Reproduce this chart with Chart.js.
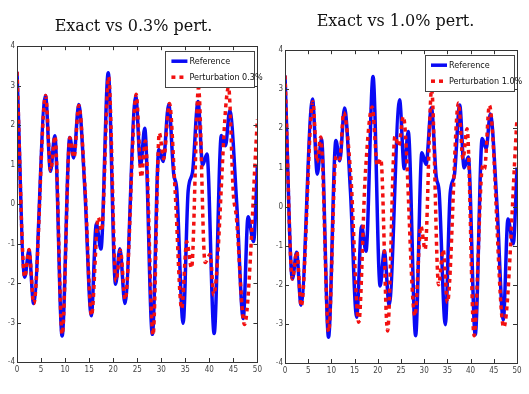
<!DOCTYPE html>
<html>
<head>
<meta charset="utf-8">
<script src="https://cdn.jsdelivr.net/npm/chart.js@4.4.1/dist/chart.umd.min.js"></script>
<style>
  html, body { margin: 0; padding: 0; background: #fff; }
  .panel { position: absolute; top: 0; }
</style>
</head>
<body>
<div class="panel" style="left:0"><canvas id="left" width="265" height="394"></canvas></div>
<div class="panel" style="left:265px"><canvas id="right" width="264" height="394"></canvas></div>
<script>
// reference trajectory (extrema and shoulders)
const refX = [0, 1.6, 2.5, 3.45, 5.93, 6.96, 7.86, 9.38, 10.97, 11.8, 12.83, 14.1, 15.45, 16.5, 17.45, 18.97,
  20.5, 21.4, 22.45, 24.7, 25.7, 26.56, 28.15, 29.5, 30.4, 31.55, 32.6, 33.2, 34.55, 35.6, 36.5, 37.65,
  38.6, 39.5, 41.0, 42.5, 43.35, 44.25, 45.7, 47.05, 48.05, 49.2, 50];
const refY = [3.35, -1.85, -1.17, -2.52, 2.75, 0.83, 1.73, -3.34, 1.69, 1.17, 2.52, 0.4, -2.83, -0.5, -1.14, 3.33,
  -2.03, -1.13, -2.52, 2.73, 0.97, 1.92, -3.3, 1.38, 1.08, 2.53, 0.75, 0.4, -3.02, 0.34, 0.8, 2.6,
  0.99, 1.27, -3.28, 1.74, 1.48, 2.37, 0.0, -2.9, -0.32, -0.95, 1.0];

// 0.3% perturbation
const p03X = [0, 1.6, 2.5, 3.5, 5.95, 7.0, 7.9, 9.4, 11.0, 11.85, 12.85, 14.15, 15.5, 16.9, 17.6, 19.05,
  20.6, 21.5, 22.5, 24.8, 25.85, 26.7, 28.3, 29.6, 30.5, 31.7, 32.9, 34.25, 35.3, 36.3, 37.75,
  39.1, 40.2, 40.9, 44.0, 45.0, 45.6, 47.3, 50];
const p03Y = [3.35, -1.85, -1.15, -2.52, 2.75, 0.85, 1.72, -3.3, 1.68, 1.18, 2.5, 0.4, -2.82, -0.34, -0.68, 3.22,
  -1.95, -1.17, -2.42, 2.78, 0.68, 1.6, -3.32, 1.8, 1.15, 2.55, 0.3, -2.65, -0.95, -1.62, 2.95,
  -1.48, -1.27, -2.3, 2.96, 0.25, -0.3, -3.05, 2.15];

// 1.0% perturbation
const p10X = [0, 1.6, 2.55, 3.5, 6.0, 6.9, 7.7, 9.4, 11.0, 11.8, 12.65, 14.2, 15.9, 17.3, 18.8, 19.9,
  20.65, 22.1, 23.7, 24.5, 25.5, 28.0, 29.3, 30.2, 31.6, 33.1, 34.1, 35.0, 37.4, 38.35, 39.25,
  40.75, 42.6, 43.0, 44.05, 47.15, 50];
const p10Y = [3.35, -1.85, -1.15, -2.55, 2.68, 1.14, 1.78, -3.2, 1.3, 1.22, 2.4, 0.75, -2.96, 0.8, 2.55, 1.05,
  1.22, -3.18, 1.8, 1.55, 2.3, -2.8, -0.5, -1.1, 3.0, -2.0, -1.1, -2.45, 2.65, 1.22, 1.99,
  -3.3, 1.05, 0.97, 2.59, -3.09, 2.25];

const xTicks = [0, 5, 10, 15, 20, 25, 30, 35, 40, 45, 50];
const yTicks = [-4, -3, -2, -1, 0, 1, 2, 3, 4];

const BLUE = '#0a0af5';
const RED = '#f21010';
const TICK_FONT = { family: "'Liberation Sans Narrow', 'DejaVu Sans Condensed', 'Liberation Sans', sans-serif", size: 8 };

const toPts = (xs, ys) => xs.map((x, i) => ({ x: x, y: ys[i] }));

// box round the axes with inward ticks, matlab style
const boxPlugin = {
  id: 'box',
  afterDatasetsDraw(chart) {
    const { ctx, chartArea: a, scales } = chart;
    ctx.save();
    ctx.strokeStyle = '#333';
    ctx.lineWidth = 1;
    ctx.strokeRect(Math.round(a.left) + 0.5, Math.round(a.top) + 0.5,
      Math.round(a.right - a.left), Math.round(a.bottom - a.top));
    ctx.beginPath();
    xTicks.forEach(v => {
      const px = Math.round(scales.x.getPixelForValue(v)) + 0.5;
      ctx.moveTo(px, a.bottom); ctx.lineTo(px, a.bottom - 4);
      ctx.moveTo(px, a.top); ctx.lineTo(px, a.top + 4);
    });
    yTicks.forEach(v => {
      const py = Math.round(scales.y.getPixelForValue(v)) + 0.5;
      ctx.moveTo(a.left, py); ctx.lineTo(a.left + 4, py);
      ctx.moveTo(a.right, py); ctx.lineTo(a.right - 4, py);
    });
    ctx.stroke();
    ctx.restore();
  }
};

// legend drawn inside the top right corner
const insideLegend = {
  id: 'insideLegend',
  afterDraw(chart) {
    const { ctx, chartArea: a } = chart;
    const w = 89, h = 36;
    const left = a.right - w - 3, top = a.top + 5;
    ctx.save();
    ctx.fillStyle = '#fff';
    ctx.fillRect(left, top, w, h);
    ctx.strokeStyle = '#444';
    ctx.lineWidth = 1;
    ctx.strokeRect(Math.round(left) + 0.5, Math.round(top) + 0.5, w, h);
    ctx.font = "9px 'Liberation Sans Narrow', 'DejaVu Sans Condensed', sans-serif";
    ctx.textBaseline = 'middle';
    ctx.fillStyle = '#111';
    chart.data.datasets.forEach((ds, i) => {
      const y = top + 10 + i * 16;
      ctx.beginPath();
      ctx.strokeStyle = ds.borderColor;
      ctx.lineWidth = 3.5;
      ctx.setLineDash(ds.borderDash || []);
      ctx.moveTo(left + 6, y);
      ctx.lineTo(left + 22, y);
      ctx.stroke();
      ctx.setLineDash([]);
      ctx.fillText(ds.label, left + 24, y + 0.5);
    });
    ctx.restore();
  }
};

function makeChart(id, title, pertLabel, px, py, pad, titlePad) {
  return new Chart(document.getElementById(id), {
    type: 'line',
    data: {
      datasets: [
        { label: 'Reference', data: toPts(refX, refY), borderColor: BLUE, borderWidth: 3.5,
          pointRadius: 0, cubicInterpolationMode: 'monotone', order: 1 },
        { label: pertLabel, data: toPts(px, py), borderColor: RED, borderWidth: 3.5,
          borderDash: [4, 4], pointRadius: 0, cubicInterpolationMode: 'monotone', order: 0 }
      ]
    },
    options: {
      responsive: false,
      animation: false,
      layout: { padding: pad },
      plugins: {
        legend: { display: false },
        tooltip: { enabled: false },
        title: {
          display: true, text: title, color: '#111',
          font: { family: "'DejaVu Serif', serif", size: 16, weight: 'normal' },
          padding: titlePad
        }
      },
      scales: {
        x: {
          type: 'linear', min: 0, max: 50,
          afterBuildTicks: s => { s.ticks = xTicks.map(v => ({ value: v })); },
          ticks: { font: TICK_FONT, color: '#444', padding: 3, maxRotation: 0 },
          grid: { display: false, drawTicks: false }, border: { display: false },
          afterFit: s => { s.height = 14; }
        },
        y: {
          type: 'linear', min: -4, max: 4,
          afterBuildTicks: s => { s.ticks = yTicks.map(v => ({ value: v })); },
          ticks: { font: TICK_FONT, color: '#444', padding: 2 },
          grid: { display: false, drawTicks: false }, border: { display: false },
          afterFit: s => { s.width = 11; }
        }
      }
    },
    plugins: [boxPlugin, insideLegend]
  });
}

makeChart('left', 'Exact vs 0.3% pert.', 'Perturbation 0.3%', p03X, p03Y,
  { top: 17, left: 6, right: 4, bottom: 18 }, { top: 0, bottom: 10 });
makeChart('right', 'Exact vs 1.0% pert.', 'Perturbation 1.0%', p10X, p10Y,
  { top: 12, left: 9, right: 12, bottom: 17 }, { top: 0, bottom: 19 });
</script>
</body>
</html>
